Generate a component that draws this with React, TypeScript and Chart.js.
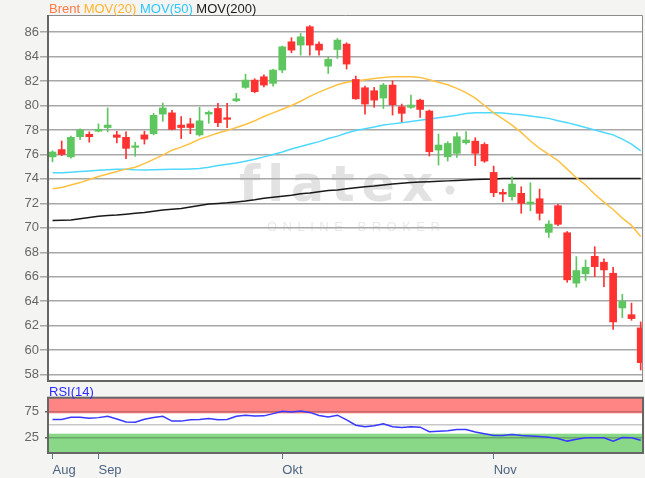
import React, { useEffect, useRef } from 'react';
import { Chart, registerables } from 'chart.js';

Chart.register(...registerables);

const FONT = '"Liberation Sans", Arial, sans-serif';

// Trading days (Brent, 2018)
const dates = [
  '27.08', '28.08', '29.08', '30.08', '31.08',
  '03.09', '04.09', '05.09', '06.09', '07.09', '10.09', '11.09', '12.09', '13.09', '14.09',
  '17.09', '18.09', '19.09', '20.09', '21.09', '24.09', '25.09', '26.09', '27.09', '28.09',
  '01.10', '02.10', '03.10', '04.10', '05.10', '08.10', '09.10', '10.10', '11.10', '12.10',
  '15.10', '16.10', '17.10', '18.10', '19.10', '22.10', '23.10', '24.10', '25.10', '26.10',
  '29.10', '30.10', '31.10',
  '01.11', '02.11', '05.11', '06.11', '07.11', '08.11', '09.11', '12.11', '13.11', '14.11',
  '15.11', '16.11', '19.11', '20.11', '21.11', '22.11', '23.11',
];

const opens = [
  75.8, 76.4, 75.8, 77.45, 77.65, 77.9, 78.2, 77.6, 77.4, 76.58,
  77.6, 77.7, 79.3, 79.4, 78.4, 78.5, 77.6, 79.3, 79.76, 79.0,
  80.39, 81.48, 82.08, 82.35, 81.81, 82.9, 85.21, 84.94, 86.44, 85.02,
  83.22, 84.58, 85.02, 82.13, 81.45, 81.21, 80.61, 81.67, 79.9, 79.85,
  80.44, 79.55, 76.36, 75.81, 76.09, 76.96, 77.09, 76.82, 74.53, 72.9,
  72.55, 72.82, 71.95, 72.38, 69.63, 71.81, 69.6, 65.48, 66.24, 67.67,
  67.19, 66.29, 63.45, 62.9, 61.82,
];
const highs = [
  76.3, 77.1, 77.5, 78.1, 77.85, 78.5, 79.8, 77.9, 77.85, 77.0,
  77.9, 79.35, 80.2, 79.6, 79.1, 78.95, 79.85, 79.55, 80.17, 80.17,
  80.99, 82.57, 82.19, 82.51, 82.95, 84.86, 85.54, 85.89, 86.54, 85.21,
  83.98, 85.48, 85.13, 82.41, 81.59, 81.48, 81.81, 82.02, 80.12, 80.85,
  80.53, 79.63, 77.67, 77.04, 77.78, 77.86, 77.37, 76.96, 75.05, 73.15,
  74.18, 73.36, 73.69, 73.17, 70.59, 71.92, 69.7, 67.65, 67.38, 68.46,
  67.46, 66.78, 64.56, 63.85, 62.31,
];
const lows = [
  75.4, 75.9, 75.7, 77.2, 77.0, 77.85, 77.85, 76.95, 75.65, 75.85,
  76.85, 77.6, 78.7, 78.0, 77.3, 77.7, 77.5, 78.55, 78.27, 78.18,
  80.31, 81.4, 81.04, 81.53, 81.59, 82.68, 84.31, 84.12, 84.12, 84.12,
  82.62, 83.85, 82.98, 80.5, 79.3, 79.85, 79.76, 79.22, 78.67, 79.76,
  79.03, 75.87, 75.13, 75.46, 75.76, 76.85, 75.08, 75.35, 72.55, 72.14,
  72.27, 71.19, 71.4, 70.64, 69.22, 70.18, 65.55, 65.15, 65.7, 66.02,
  65.2, 61.69, 62.66, 62.44, 58.38,
];
const closes = [
  76.2, 76.0, 77.4, 78.0, 77.45, 78.05, 78.4, 77.4, 76.5, 76.7,
  77.25, 79.2, 79.8, 78.05, 78.2, 78.2, 78.75, 79.45, 78.59, 78.87,
  80.55, 82.08, 81.13, 81.67, 82.9, 84.8, 84.53, 85.62, 84.94, 84.53,
  83.77, 85.35, 83.39, 80.55, 80.12, 80.44, 81.67, 80.06, 79.36, 80.04,
  79.68, 76.22, 76.77, 76.9, 77.45, 77.18, 76.09, 75.46, 72.87, 72.76,
  73.58, 72.0, 72.11, 71.19, 70.31, 70.29, 65.75, 66.51, 66.78, 66.83,
  66.56, 62.31, 63.99, 62.58, 58.98,
];

const mov20 = [
  73.2, 73.3, 73.5, 73.7, 73.95, 74.2, 74.4, 74.6, 74.8, 74.95,
  75.25, 75.6, 75.95, 76.35, 76.6, 76.9, 77.25, 77.5, 77.75, 77.95,
  78.2, 78.45, 78.75, 79.1, 79.4, 79.7, 80.0, 80.35, 80.75, 81.1,
  81.4, 81.7, 81.9, 82.0, 82.1, 82.2, 82.3, 82.35, 82.35, 82.35,
  82.3, 82.1, 81.9, 81.7, 81.4, 81.05, 80.6, 80.0, 79.4, 78.9,
  78.4, 77.8, 77.1, 76.5, 76.0, 75.5, 74.8, 74.1, 73.5, 72.75,
  72.1, 71.5, 70.8, 70.2, 69.3,
];
const mov50 = [
  74.5, 74.5, 74.55, 74.6, 74.65, 74.7, 74.75, 74.8, 74.8, 74.75,
  74.72, 74.75, 74.78, 74.8, 74.8, 74.82, 74.85, 74.95, 75.1, 75.2,
  75.3, 75.45, 75.6, 75.8, 76.0, 76.2, 76.45, 76.65, 76.85, 77.05,
  77.3, 77.5, 77.75, 77.95, 78.1, 78.25, 78.4, 78.5, 78.6, 78.7,
  78.8, 78.9, 79.0, 79.1, 79.2, 79.35, 79.4, 79.4, 79.4, 79.38,
  79.3, 79.25, 79.15, 79.05, 78.95, 78.75, 78.6, 78.4, 78.2, 78.0,
  77.8, 77.6, 77.25, 76.85, 76.3,
];
const mov200 = [
  70.6, 70.62, 70.65, 70.75, 70.85, 70.95, 71.0, 71.05, 71.12, 71.2,
  71.25, 71.35, 71.45, 71.52, 71.58, 71.7, 71.82, 71.95, 72.0, 72.05,
  72.12, 72.2, 72.3, 72.42, 72.5, 72.58, 72.67, 72.78, 72.85, 72.95,
  73.05, 73.1, 73.2, 73.28, 73.36, 73.42, 73.5, 73.58, 73.64, 73.7,
  73.74, 73.77, 73.8, 73.84, 73.88, 73.92, 73.95, 73.98, 74.0, 74.04,
  74.04, 74.04, 74.04, 74.04, 74.04, 74.04, 74.04, 74.04, 74.04, 74.04,
  74.04, 74.04, 74.04, 74.04, 74.04,
];
const rsi14 = [
  60.3, 60.3, 64.5, 64.7, 62.5, 63.8, 66.5, 61.0, 55.5, 55.1,
  60.5, 64.0, 66.5, 57.2, 57.1, 59.6, 60.3, 62.2, 59.8, 60.2,
  66.5, 68.5, 66.8, 67.2, 71.5, 76.2, 74.4, 76.3, 73.8, 67.8,
  65.0, 68.5, 59.5, 49.2, 46.2, 48.1, 51.9, 46.2, 44.9, 46.2,
  45.5, 36.8, 37.8, 38.6, 41.0, 41.0, 36.2, 33.0, 29.5, 29.6,
  31.4, 29.5, 28.8, 27.6, 26.2, 23.8, 18.8, 22.3, 25.0, 25.0,
  25.0, 18.6, 25.5, 25.0, 20.5,
];

const priceTicks = [58, 60, 62, 64, 66, 68, 70, 72, 74, 76, 78, 80, 82, 84, 86];
const rsiTicks = [25, 50, 75];
const monthLabels = ['Aug', 'Sep', 'Okt', 'Nov'];
const monthIndex = [0, 5, 25, 48];

const X_MIN = -0.49;
const X_MAX = 64.25;
const GREEN = '#5ec65e';
const RED = '#ff3232';

export default function App() {
  const mainRef = useRef<HTMLCanvasElement>(null);
  const rsiRef = useRef<HTMLCanvasElement>(null);

  useEffect(() => {
    document.body.style.margin = '0';
    Chart.defaults.font.family = FONT;
    const idx = dates.map((_, i) => i);
    const colors = idx.map((i) => (closes[i] >= opens[i] ? GREEN : RED));

    const fitY = (s: any) => {
      s.width = 48;
      s.paddingTop = 0;
      s.paddingBottom = 0;
    };

    const mainPlugin = {
      id: 'mainDeco',
      beforeDraw(chart: any) {
        const { ctx, chartArea: a } = chart;
        ctx.save();
        ctx.fillStyle = '#ffffff';
        ctx.fillRect(a.left, a.top, a.right - a.left, a.bottom - a.top);
        // watermark
        ctx.fillStyle = '#e2e2e2';
        ctx.font = `bold 49px "DejaVu Sans", ${FONT}`;
        ctx.textBaseline = 'alphabetic';
        ctx.textAlign = 'left';
        try { (ctx as any).letterSpacing = '7px'; } catch (e) {}
        ctx.fillText('flatex', 239, 201);
        ctx.beginPath();
        ctx.arc(450, 190, 4.5, 0, Math.PI * 2);
        ctx.fill();
        ctx.fillStyle = '#e8e8e8';
        ctx.font = `13px ${FONT}`;
        try { (ctx as any).letterSpacing = '5.5px'; } catch (e) {}
        ctx.fillText('ONLINE BROKER', 267, 231);
        try { (ctx as any).letterSpacing = '0px'; } catch (e) {}
        ctx.restore();
      },
      afterDraw(chart: any) {
        const { ctx, chartArea: a } = chart;
        ctx.save();
        ctx.strokeStyle = '#8c8c8c';
        ctx.lineWidth = 1;
        ctx.beginPath();
        ctx.moveTo(a.left, a.top + 0.5);
        ctx.lineTo(a.right - 0.5, a.top + 0.5);
        ctx.lineTo(a.right - 0.5, a.bottom);
        ctx.stroke();
        ctx.strokeStyle = '#666666';
        ctx.lineWidth = 2;
        ctx.beginPath();
        ctx.moveTo(a.left, a.top);
        ctx.lineTo(a.left, a.bottom);
        ctx.lineTo(a.right, a.bottom);
        ctx.stroke();
        // legend
        ctx.font = `13px ${FONT}`;
        ctx.textBaseline = 'alphabetic';
        ctx.textAlign = 'left';
        const items: [string, string][] = [
          ['Brent', '#ff7a45'],
          ['MOV(20)', '#ffb52e'],
          ['MOV(50)', '#2ec8ff'],
          ['MOV(200)', '#1a1a1a'],
        ];
        let x = 49;
        const sp = ctx.measureText(' ').width;
        for (const [t, c] of items) {
          ctx.fillStyle = c;
          ctx.fillText(t, x, 12.5);
          x += ctx.measureText(t).width + sp;
        }
        ctx.restore();
      },
    };

    const main = new Chart(mainRef.current as HTMLCanvasElement, {
      type: 'bar',
      data: {
        datasets: [
          {
            type: 'bar',
            data: idx.map((i) => ({ x: i, y: [lows[i], highs[i]] })) as any,
            backgroundColor: colors,
            barThickness: 1,
            grouped: false,
            borderWidth: 0,
            order: 1,
          } as any,
          {
            type: 'bar',
            data: idx.map((i) => ({ x: i, y: [opens[i], closes[i]] })) as any,
            backgroundColor: colors,
            barThickness: 7,
            grouped: false,
            borderWidth: 0,
            minBarLength: 1.5,
            order: 0,
          } as any,
          {
            type: 'line',
            data: idx.map((i) => ({ x: i, y: mov200[i] })),
            borderColor: '#1a1a1a',
            borderWidth: 1.5,
            pointRadius: 0,
            order: 4,
          } as any,
          {
            type: 'line',
            data: idx.map((i) => ({ x: i, y: mov50[i] })),
            borderColor: '#4fd8ff',
            borderWidth: 1.5,
            pointRadius: 0,
            order: 3,
          } as any,
          {
            type: 'line',
            data: idx.map((i) => ({ x: i, y: mov20[i] })),
            borderColor: '#ffc142',
            borderWidth: 1.5,
            pointRadius: 0,
            order: 2,
          } as any,
        ],
      },
      options: {
        responsive: false,
        animation: false,
        events: [],
        layout: { padding: { top: 15, right: 2, bottom: 4, left: 0 } },
        plugins: { legend: { display: false }, tooltip: { enabled: false } },
        scales: {
          x: { type: 'linear', min: X_MIN, max: X_MAX, offset: false, display: false },
          y: {
            type: 'linear',
            min: 57.48,
            max: 87.4,
            afterFit: fitY,
            afterBuildTicks: (s: any) => { s.ticks = priceTicks.map((v) => ({ value: v })); },
            ticks: { font: { size: 13, family: FONT }, color: '#666666', padding: 1 },
            grid: { color: '#a8a8a8', lineWidth: 1.5, tickLength: 8 },
            border: { display: false },
          },
        },
      } as any,
      plugins: [mainPlugin],
    });

    const rsiPlugin = {
      id: 'rsiDeco',
      beforeDraw(chart: any) {
        const { ctx, chartArea: a } = chart;
        const y = chart.scales.y;
        ctx.save();
        ctx.fillStyle = '#ffffff';
        ctx.fillRect(a.left, a.top, a.right - a.left, a.bottom - a.top);
        const yr = y.getPixelForValue(72);
        ctx.fillStyle = '#ff8585';
        ctx.fillRect(a.left, a.top, a.right - a.left, yr - a.top);
        const yg = y.getPixelForValue(33);
        ctx.fillStyle = '#88d888';
        ctx.fillRect(a.left, yg, a.right - a.left, a.bottom - yg);
        ctx.restore();
      },
      afterDraw(chart: any) {
        const { ctx, chartArea: a } = chart;
        ctx.save();
        ctx.strokeStyle = '#666666';
        ctx.lineWidth = 2;
        ctx.strokeRect(a.left, a.top, a.right - a.left, a.bottom - a.top);
        ctx.font = `13px ${FONT}`;
        ctx.fillStyle = '#2b2bff';
        ctx.textAlign = 'left';
        ctx.textBaseline = 'alphabetic';
        ctx.fillText('RSI(14)', 49, 10.5);
        ctx.restore();
      },
    };

    const rsi = new Chart(rsiRef.current as HTMLCanvasElement, {
      type: 'line',
      data: {
        datasets: [
          {
            data: idx.map((i) => ({ x: i, y: rsi14[i] })),
            borderColor: '#3838ff',
            borderWidth: 1.5,
            pointRadius: 0,
          },
        ],
      },
      options: {
        responsive: false,
        animation: false,
        events: [],
        layout: { padding: { top: 12.7, right: 2, bottom: 0, left: 0 } },
        plugins: { legend: { display: false }, tooltip: { enabled: false } },
        scales: {
          x: {
            type: 'linear',
            min: X_MIN,
            max: X_MAX,
            offset: false,
            afterFit: (s: any) => { s.height = 25; },
            afterBuildTicks: (s: any) => { s.ticks = monthIndex.map((v) => ({ value: v })); },
            ticks: {
              autoSkip: false,
              maxRotation: 0,
              align: 'start',
              padding: 4,
              font: { size: 13, family: FONT },
              color: '#4d6480',
              callback: (v: any) => {
                const k = monthIndex.indexOf(v);
                return k >= 0 ? monthLabels[k] : '';
              },
            },
            grid: { drawOnChartArea: false, drawTicks: true, tickLength: 6, color: '#5a7896', lineWidth: 1 },
            border: { display: false },
          },
          y: {
            type: 'linear',
            min: -4,
            max: 102,
            afterFit: fitY,
            afterBuildTicks: (s: any) => { s.ticks = rsiTicks.map((v) => ({ value: v })); },
            ticks: {
              font: { size: 13, family: FONT },
              color: '#666666',
              padding: 6,
              callback: (v: any) => (v === 50 ? '' : String(v)),
            },
            grid: {
              color: 'rgba(0,0,0,0.22)',
              lineWidth: 1.5,
              tickLength: 3,
              tickColor: (c: any) => (c.tick && c.tick.value === 50 ? 'rgba(0,0,0,0)' : '#666666'),
            },
            border: { display: false },
          },
        },
      } as any,
      plugins: [rsiPlugin],
    });

    return () => {
      main.destroy();
      rsi.destroy();
    };
  }, []);

  return (
    <div
      style={{
        position: 'fixed',
        left: 0,
        top: 0,
        width: 645,
        height: 478,
        background: '#f4f4f2',
        overflow: 'hidden',
      }}
    >
      <canvas
        ref={mainRef}
        width={645}
        height={385}
        style={{ position: 'absolute', left: 0, top: 0, width: 645, height: 385 }}
      />
      <canvas
        ref={rsiRef}
        width={645}
        height={93}
        style={{ position: 'absolute', left: 0, top: 385, width: 645, height: 93 }}
      />
    </div>
  );
}
